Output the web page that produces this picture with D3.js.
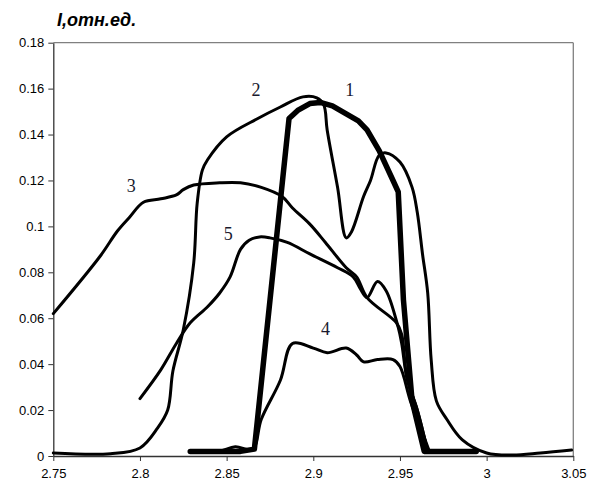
<!DOCTYPE html>
<html>
<head>
<meta charset="utf-8">
<script src="https://cdn.jsdelivr.net/npm/d3@7"></script>
<style>
  body { margin: 0; background: #fff; }
  svg { display: block; }
</style>
</head>
<body>
<svg width="602" height="488"></svg>
<script>
// energy axis, eV
var xTicks = [2.75, 2.8, 2.85, 2.9, 2.95, 3, 3.05];
var yTicks = [0, 0.02, 0.04, 0.06, 0.08, 0.1, 0.12, 0.14, 0.16, 0.18];

// curve 1 (thick, drawn with straight segments)
var x1 = [2.829, 2.845, 2.858, 2.866, 2.886, 2.891, 2.898, 2.904, 2.911, 2.919, 2.926, 2.931, 2.938, 2.946, 2.949, 2.952, 2.957, 2.964, 2.975, 2.994];
var y1 = [0.002, 0.002, 0.002, 0.003, 0.147, 0.1505, 0.1535, 0.154, 0.1525, 0.149, 0.146, 0.142, 0.133, 0.120, 0.115, 0.068, 0.024, 0.002, 0.002, 0.002];

// curve 2
var x2 = [2.75, 2.783, 2.800, 2.810, 2.816, 2.819, 2.825, 2.831, 2.833, 2.836, 2.839, 2.850, 2.868, 2.881, 2.894, 2.902, 2.906, 2.908, 2.914, 2.919, 2.922, 2.929, 2.933, 2.938, 2.942, 2.950, 2.957, 2.960, 2.963, 2.966, 2.968, 2.971, 2.977, 2.986, 3.000, 3.015, 3.031, 3.049];
var y2 = [0.0013, 0.001, 0.0035, 0.012, 0.020, 0.037, 0.055, 0.084, 0.110, 0.1245, 0.129, 0.139, 0.147, 0.152, 0.1564, 0.156, 0.153, 0.142, 0.117, 0.095, 0.0976, 0.113, 0.120, 0.131, 0.132, 0.128, 0.117, 0.106, 0.088, 0.071, 0.042, 0.024, 0.016, 0.007, 0.0013, 0.0004, 0.0013, 0.0026];

// curve 3
var x3 = [2.75, 2.777, 2.787, 2.794, 2.802, 2.812, 2.821, 2.825, 2.831, 2.846, 2.858, 2.870, 2.882, 2.888, 2.898, 2.907, 2.919, 2.925, 2.931, 2.948, 2.951, 2.954, 2.960, 2.966];
var y3 = [0.062, 0.087, 0.098, 0.104, 0.1105, 0.112, 0.1137, 0.116, 0.118, 0.119, 0.119, 0.117, 0.113, 0.108, 0.101, 0.093, 0.082, 0.078, 0.069, 0.058, 0.053, 0.034, 0.020, 0.002];

// curve 4
var x4 = [2.830, 2.845, 2.855, 2.865, 2.870, 2.881, 2.888, 2.900, 2.908, 2.919, 2.925, 2.929, 2.937, 2.946, 2.950, 2.956, 2.963, 2.967];
var y4 = [0.002, 0.002, 0.004, 0.003, 0.016, 0.033, 0.049, 0.047, 0.045, 0.047, 0.044, 0.041, 0.042, 0.042, 0.039, 0.024, 0.010, 0.002];

// curve 5
var x5 = [2.800, 2.812, 2.821, 2.829, 2.839, 2.846, 2.852, 2.858, 2.863, 2.869, 2.875, 2.885, 2.898, 2.914, 2.923, 2.927, 2.931, 2.937, 2.942, 2.949, 2.951, 2.954, 2.960, 2.966];
var y5 = [0.025, 0.0375, 0.049, 0.058, 0.065, 0.071, 0.078, 0.090, 0.094, 0.0954, 0.095, 0.093, 0.088, 0.082, 0.078, 0.073, 0.069, 0.076, 0.072, 0.056, 0.049, 0.034, 0.020, 0.002];

var labels = ["1", "2", "3", "4", "5"];
var labelX = [2.921, 2.867, 2.795, 2.907, 2.851];
var labelY = [0.157, 0.157, 0.115, 0.0525, 0.094];

var svg = d3.select("svg");
var x = d3.scaleLinear().domain([2.75, 3.05]).range([53.3, 573.3]);
var y = d3.scaleLinear().domain([0, 0.18]).range([456, 42.7]);

// plot frame (top and right)
svg.append("line").attr("x1", x(2.75)).attr("x2", x(3.05)).attr("y1", y(0.18)).attr("y2", y(0.18))
    .attr("stroke", "#808080").attr("stroke-width", 1.3);
svg.append("line").attr("x1", x(3.05)).attr("x2", x(3.05)).attr("y1", y(0.18)).attr("y2", y(0))
    .attr("stroke", "#808080").attr("stroke-width", 1.3);

var fmt = function(d){ return String(+d.toFixed(2)); };

var gx = svg.append("g").attr("transform", "translate(0," + y(0) + ")")
    .call(d3.axisBottom(x).tickValues(xTicks).tickFormat(fmt).tickSize(5).tickSizeOuter(0));
var gy = svg.append("g").attr("transform", "translate(" + x(2.75) + ",0)")
    .call(d3.axisLeft(y).tickValues(yTicks).tickFormat(fmt).tickSize(5).tickSizeOuter(0));
[gx, gy].forEach(function(g){
    g.select(".domain").attr("stroke", "#333").attr("stroke-width", 1.3);
    g.selectAll(".tick line").attr("stroke", "#333");
    g.selectAll("text").attr("font-family", "Liberation Sans, Arial, sans-serif")
        .attr("font-size", 13).attr("fill", "#000");
});
gx.selectAll("text").attr("dy", "1.05em");
gy.selectAll("text").attr("x", -9);

var smooth = d3.line()
    .x(function(d){ return x(d[0]); })
    .y(function(d){ return y(d[1]); })
    .curve(d3.curveCatmullRom.alpha(0.5));
var straight = d3.line()
    .x(function(d){ return x(d[0]); })
    .y(function(d){ return y(d[1]); });

function draw(xs, ys, w, gen){
    svg.append("path")
        .datum(d3.zip(xs, ys))
        .attr("d", gen)
        .attr("fill", "none")
        .attr("stroke", "#000")
        .attr("stroke-width", w)
        .attr("stroke-linejoin", "round")
        .attr("stroke-linecap", "round");
}
draw(x2, y2, 3, smooth);
draw(x3, y3, 3, smooth);
draw(x4, y4, 3, smooth);
draw(x5, y5, 3, smooth);
draw(x1, y1, 5.5, straight);

svg.selectAll(".lbl")
    .data(labels)
    .enter().append("text")
    .attr("x", function(d, i){ return x(labelX[i]); })
    .attr("y", function(d, i){ return y(labelY[i]); })
    .attr("text-anchor", "middle")
    .attr("font-family", "Liberation Serif, Times New Roman, serif")
    .attr("font-size", 18)
    .attr("fill", "#1a1a2e")
    .text(function(d){ return d; });

svg.append("text")
    .attr("x", 57).attr("y", 26)
    .attr("font-family", "Liberation Sans, Arial, sans-serif")
    .attr("font-size", 18).attr("font-weight", "bold").attr("font-style", "italic")
    .text("I,отн.ед.");
</script>
</body>
</html>
